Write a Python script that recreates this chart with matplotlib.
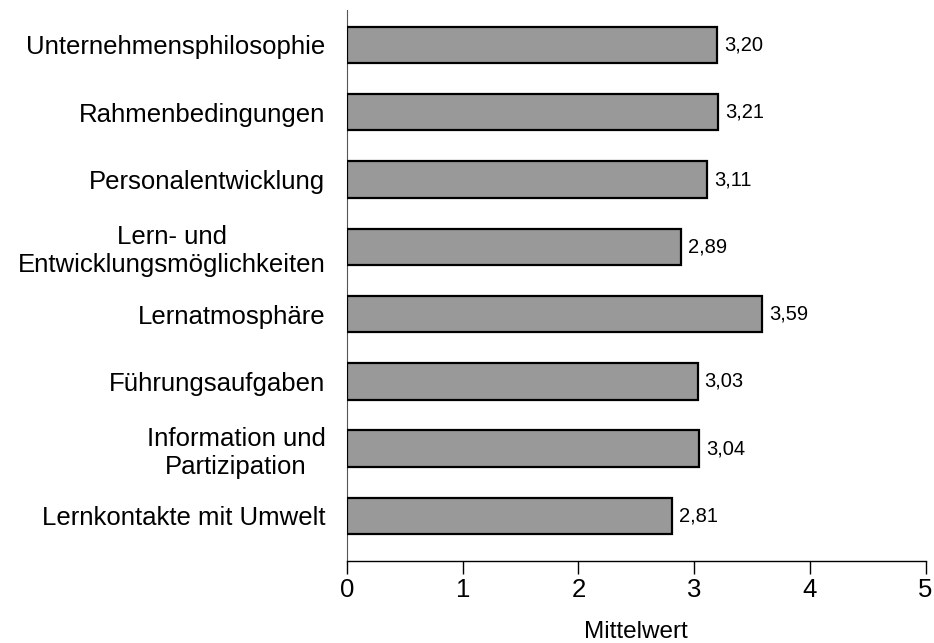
import matplotlib
matplotlib.use("Agg")
import matplotlib.pyplot as plt

categories = [
    "Unternehmensphilosophie",
    "Rahmenbedingungen",
    "Personalentwicklung",
    "Lern- und\nEntwicklungsmöglichkeiten",
    "Lernatmosphäre",
    "Führungsaufgaben",
    "Information und\nPartizipation",
    "Lernkontakte mit Umwelt",
]
values = [3.20, 3.21, 3.11, 2.89, 3.59, 3.03, 3.04, 2.81]
x_ticks = [0, 1, 2, 3, 4, 5]

plt.rcParams["font.family"] = ["Liberation Sans", "DejaVu Sans"]

fig = plt.figure(figsize=(9.34, 6.43), dpi=100)
ax = fig.add_axes([0.3715, 0.1275, 0.6195, 0.857])

pos = list(range(len(categories)))
ax.barh(pos, values, height=0.54, color="#999999", edgecolor="black", linewidth=1.6, zorder=3)

# Werte rechts neben den Balken, deutsches Dezimalkomma
for p, v in zip(pos, values):
    ax.text(v + 0.06, p, f"{v:.2f}".replace(".", ","), va="center", ha="left", fontsize=14.5)

ax.set_ylim(7.67, -0.52)
ax.set_xlim(0, 5)
ax.set_yticks(pos)
ax.set_yticklabels(categories, fontsize=18.5, linespacing=1.22)
for lbl in ax.get_yticklabels():
    lbl.set_multialignment("center")
ax.tick_params(axis="y", length=0, pad=15.5)
ax.set_xticks(x_ticks)
ax.set_xticklabels([str(t) for t in x_ticks], fontsize=18.5)
ax.tick_params(axis="x", length=9, width=1, pad=3, direction="out")

ax.set_xlabel("Mittelwert", fontsize=17.5, labelpad=14)

ax.spines["top"].set_visible(False)
ax.spines["right"].set_visible(False)
ax.spines["left"].set_color("#555555")
ax.spines["left"].set_linewidth(0.8)
ax.spines["bottom"].set_linewidth(1.0)

fig.savefig("out.png", dpi=100)
